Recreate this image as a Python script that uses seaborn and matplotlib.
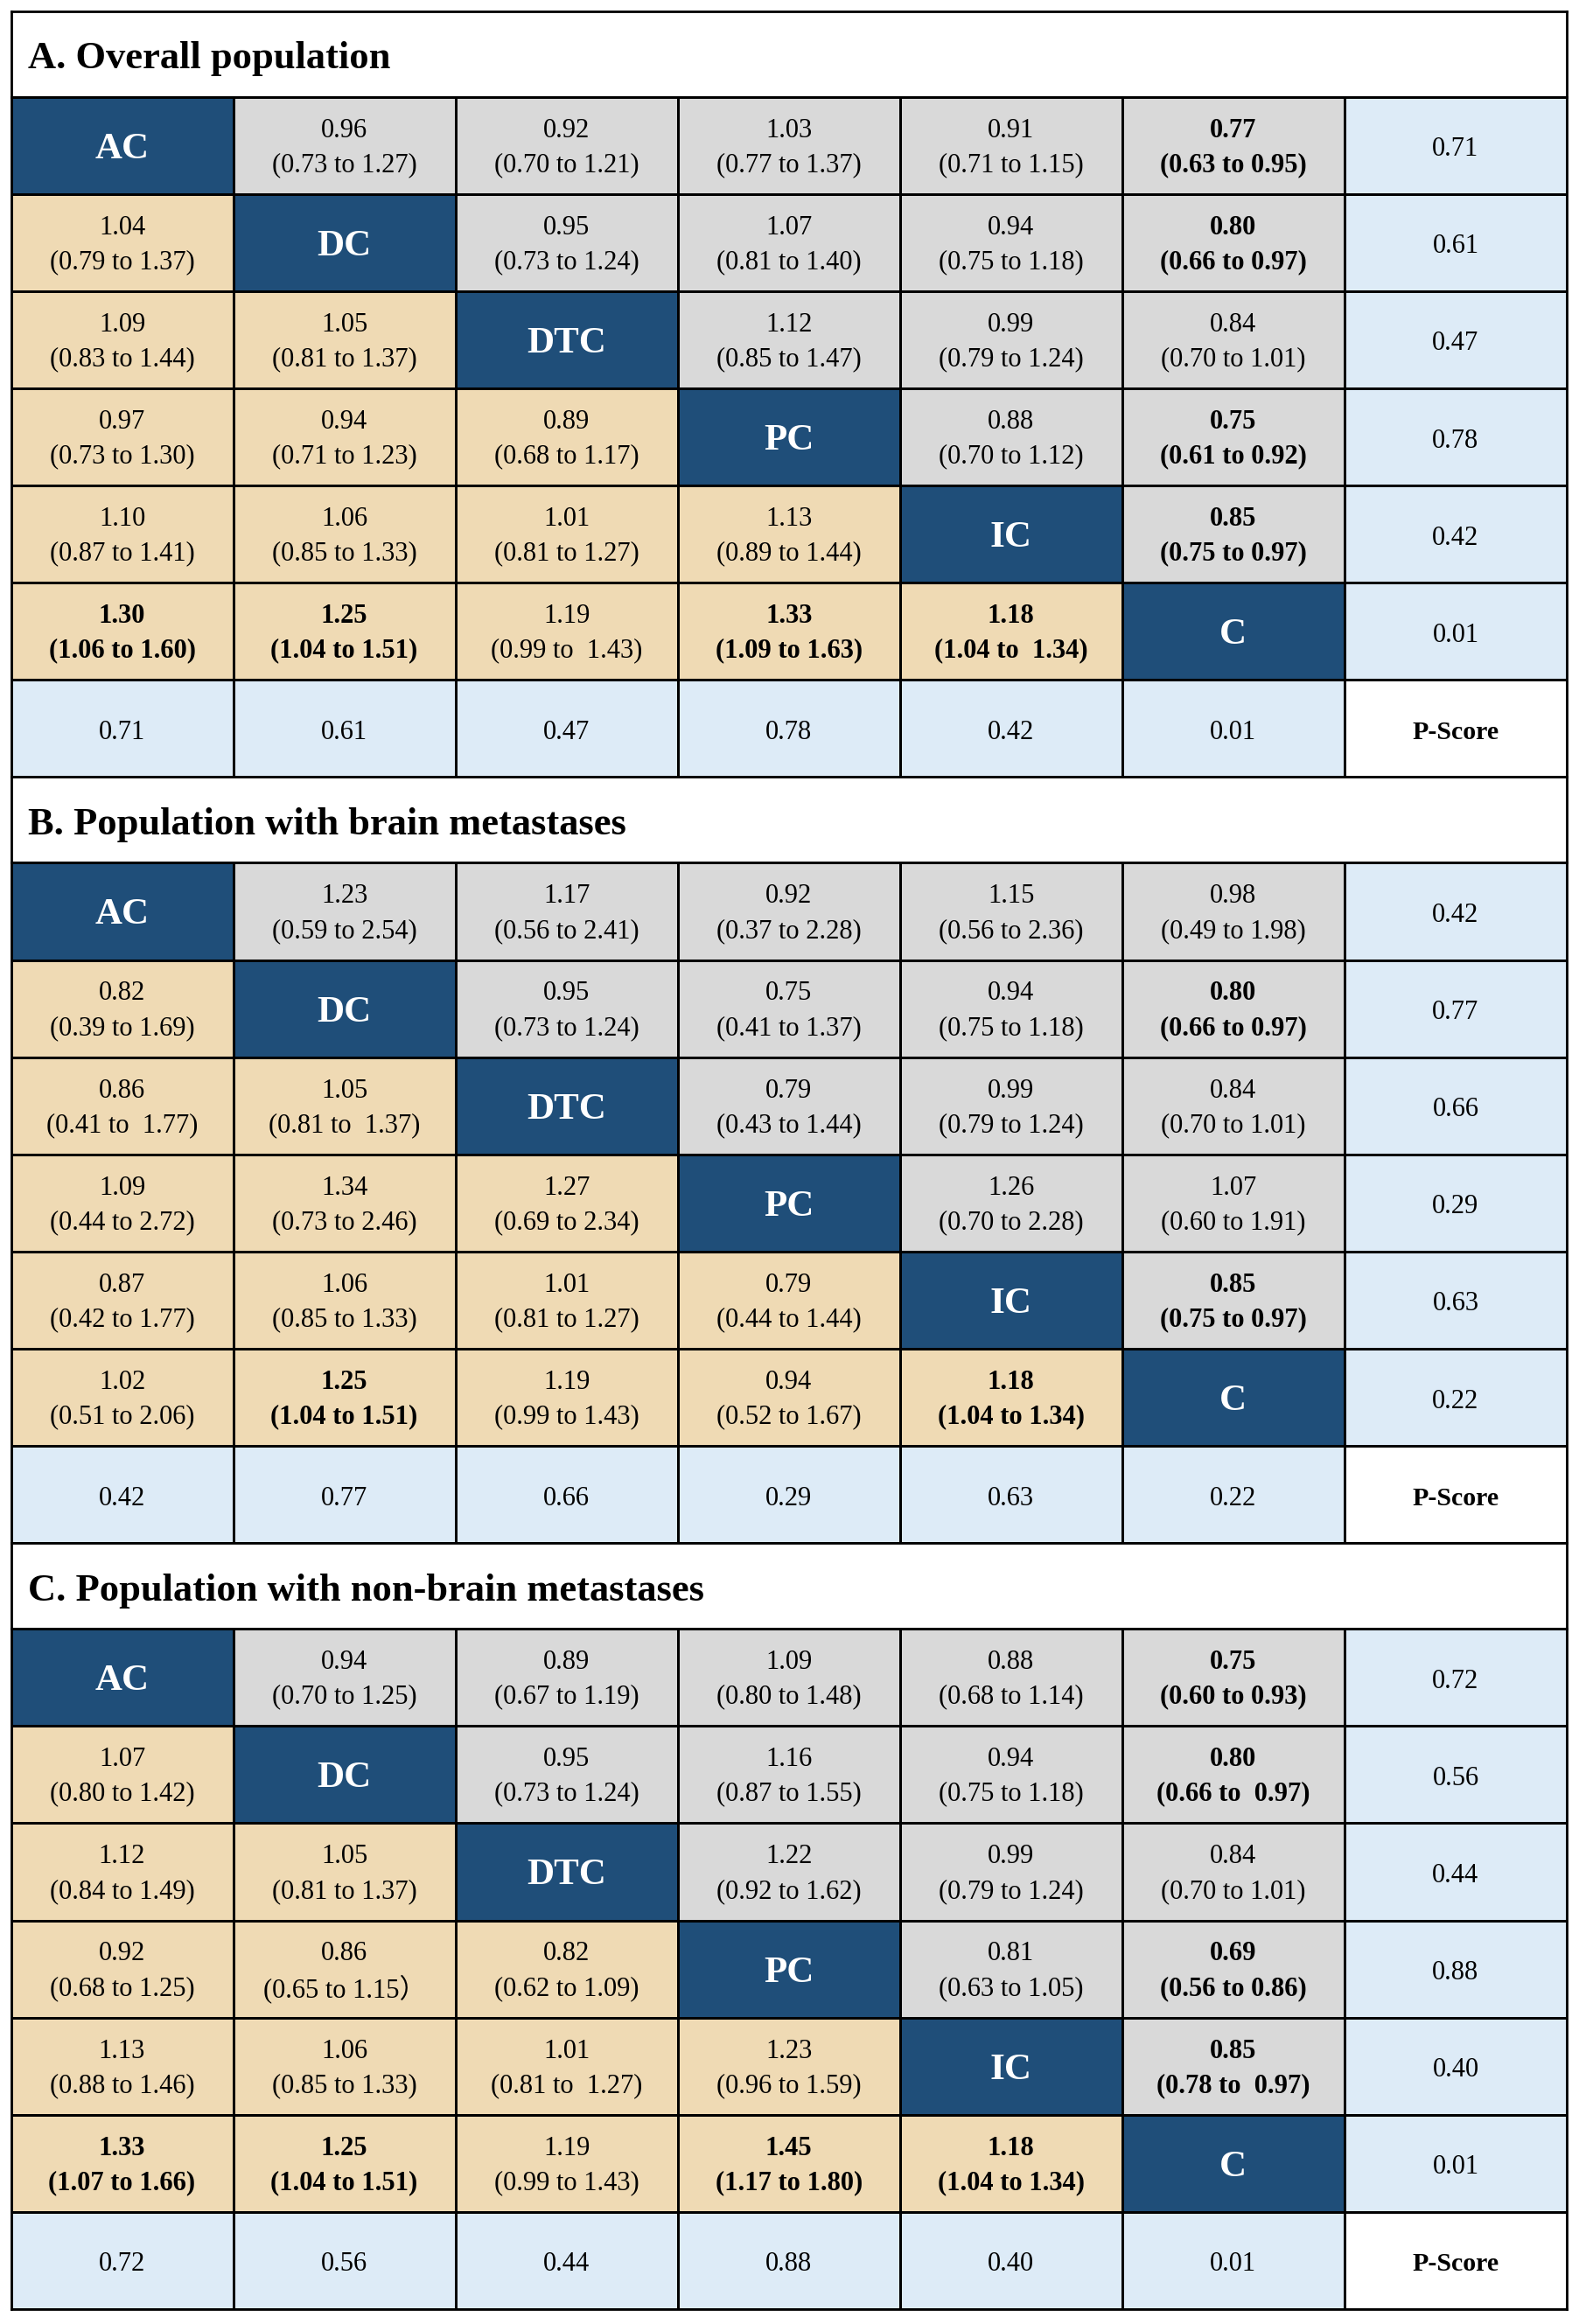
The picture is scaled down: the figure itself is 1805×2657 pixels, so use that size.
import re
import numpy as np
import pandas as pd
import matplotlib
matplotlib.use("Agg")
import matplotlib.pyplot as plt
from matplotlib.colors import ListedColormap
import seaborn as sns

# treatments on the diagonal
treatments = ["AC", "DC", "DTC", "PC", "IC", "C"]

# panel titles
title_a = "A. Overall population"
title_b = "B. Population with brain metastases"
title_c = "C. Population with non-brain metastases"

# league tables (row vs column), None on the diagonal
league_a = [
    [None, "0.96 (0.73 to 1.27)", "0.92 (0.70 to 1.21)", "1.03 (0.77 to 1.37)", "0.91 (0.71 to 1.15)", "0.77 (0.63 to 0.95)"],
    ["1.04 (0.79 to 1.37)", None, "0.95 (0.73 to 1.24)", "1.07 (0.81 to 1.40)", "0.94 (0.75 to 1.18)", "0.80 (0.66 to 0.97)"],
    ["1.09 (0.83 to 1.44)", "1.05 (0.81 to 1.37)", None, "1.12 (0.85 to 1.47)", "0.99 (0.79 to 1.24)", "0.84 (0.70 to 1.01)"],
    ["0.97 (0.73 to 1.30)", "0.94 (0.71 to 1.23)", "0.89 (0.68 to 1.17)", None, "0.88 (0.70 to 1.12)", "0.75 (0.61 to 0.92)"],
    ["1.10 (0.87 to 1.41)", "1.06 (0.85 to 1.33)", "1.01 (0.81 to 1.27)", "1.13 (0.89 to 1.44)", None, "0.85 (0.75 to 0.97)"],
    ["1.30 (1.06 to 1.60)", "1.25 (1.04 to 1.51)", "1.19 (0.99 to  1.43)", "1.33 (1.09 to 1.63)", "1.18 (1.04 to  1.34)", None],
]
league_b = [
    [None, "1.23 (0.59 to 2.54)", "1.17 (0.56 to 2.41)", "0.92 (0.37 to 2.28)", "1.15 (0.56 to 2.36)", "0.98 (0.49 to 1.98)"],
    ["0.82 (0.39 to 1.69)", None, "0.95 (0.73 to 1.24)", "0.75 (0.41 to 1.37)", "0.94 (0.75 to 1.18)", "0.80 (0.66 to 0.97)"],
    ["0.86 (0.41 to  1.77)", "1.05 (0.81 to  1.37)", None, "0.79 (0.43 to 1.44)", "0.99 (0.79 to 1.24)", "0.84 (0.70 to 1.01)"],
    ["1.09 (0.44 to 2.72)", "1.34 (0.73 to 2.46)", "1.27 (0.69 to 2.34)", None, "1.26 (0.70 to 2.28)", "1.07 (0.60 to 1.91)"],
    ["0.87 (0.42 to 1.77)", "1.06 (0.85 to 1.33)", "1.01 (0.81 to 1.27)", "0.79 (0.44 to 1.44)", None, "0.85 (0.75 to 0.97)"],
    ["1.02 (0.51 to 2.06)", "1.25 (1.04 to 1.51)", "1.19 (0.99 to 1.43)", "0.94 (0.52 to 1.67)", "1.18 (1.04 to 1.34)", None],
]
league_c = [
    [None, "0.94 (0.70 to 1.25)", "0.89 (0.67 to 1.19)", "1.09 (0.80 to 1.48)", "0.88 (0.68 to 1.14)", "0.75 (0.60 to 0.93)"],
    ["1.07 (0.80 to 1.42)", None, "0.95 (0.73 to 1.24)", "1.16 (0.87 to 1.55)", "0.94 (0.75 to 1.18)", "0.80 (0.66 to  0.97)"],
    ["1.12 (0.84 to 1.49)", "1.05 (0.81 to 1.37)", None, "1.22 (0.92 to 1.62)", "0.99 (0.79 to 1.24)", "0.84 (0.70 to 1.01)"],
    ["0.92 (0.68 to 1.25)", "0.86 (0.65 to 1.15）", "0.82 (0.62 to 1.09)", None, "0.81 (0.63 to 1.05)", "0.69 (0.56 to 0.86)"],
    ["1.13 (0.88 to 1.46)", "1.06 (0.85 to 1.33)", "1.01 (0.81 to  1.27)", "1.23 (0.96 to 1.59)", None, "0.85 (0.78 to  0.97)"],
    ["1.33 (1.07 to 1.66)", "1.25 (1.04 to 1.51)", "1.19 (0.99 to 1.43)", "1.45 (1.17 to 1.80)", "1.18 (1.04 to 1.34)", None],
]

# P-scores per treatment
pscore_a = [0.71, 0.61, 0.47, 0.78, 0.42, 0.01]
pscore_b = [0.42, 0.77, 0.66, 0.29, 0.63, 0.22]
pscore_c = [0.72, 0.56, 0.44, 0.88, 0.40, 0.01]

plt.rcParams["font.family"] = ["Liberation Serif", "Noto Sans CJK SC", "DejaVu Sans"]

# colours: diagonal, upper, lower, p-score, corner
cmap = ListedColormap(["#1F4E79", "#D9D9D9", "#EFDAB4", "#DDEBF7", "#FFFFFF"])

W, H = 1805, 2657
left_px, right_px = 12.5, 1791
top_px, bottom_px = 12.7, 2640
panel_h = (bottom_px - top_px) / 3
title_h = 98
x0 = left_px / W
wfrac = (right_px - left_px) / W

fig = plt.figure(figsize=(W / 100, H / 100), dpi=100)

panels = [(title_a, league_a, pscore_a), (title_b, league_b, pscore_b), (title_c, league_c, pscore_c)]
n = len(treatments) + 1

for k, (title, league, pscore) in enumerate(panels):
    top = top_px + k * panel_h

    # title row
    tax = fig.add_axes([x0, 1 - (top + title_h) / H, wfrac, title_h / H])
    tax.set_xticks([])
    tax.set_yticks([])
    for s in tax.spines.values():
        s.set_linewidth(2)
    tax.text(20 / (right_px - left_px), 0.33, title, transform=tax.transAxes,
             ha="left", va="baseline", fontsize=32, fontweight="bold")

    # grid of colour codes
    codes = np.zeros((n, n))
    for i in range(n):
        for j in range(n):
            if i == n - 1 and j == n - 1:
                codes[i, j] = 4
            elif i == n - 1 or j == n - 1:
                codes[i, j] = 3
            elif i == j:
                codes[i, j] = 0
            elif j > i:
                codes[i, j] = 1
            else:
                codes[i, j] = 2

    gax = fig.add_axes([x0, 1 - (top + panel_h) / H, wfrac, (panel_h - title_h) / H])
    sns.heatmap(pd.DataFrame(codes), cmap=cmap, vmin=-0.5, vmax=4.5, cbar=False,
                linewidths=2, linecolor="black", xticklabels=False, yticklabels=False, ax=gax)
    for s in gax.spines.values():
        s.set_visible(True)
        s.set_linewidth(2)

    for i in range(n):
        for j in range(n):
            cx = j + 0.5
            if i == n - 1 and j == n - 1:
                gax.text(cx, i + 0.54, "P-Score", ha="center", va="center", fontsize=21.5, fontweight="bold")
            elif i == n - 1:
                gax.text(cx, i + 0.54, f"{pscore[j]:.2f}", ha="center", va="center", fontsize=22)
            elif j == n - 1:
                gax.text(cx, i + 0.54, f"{pscore[i]:.2f}", ha="center", va="center", fontsize=22)
            elif i == j:
                gax.text(cx, i + 0.54, treatments[i], ha="center", va="center", fontsize=31,
                         fontweight="bold", color="white")
            else:
                s = league[i][j]
                est, ci = s.split(" ", 1)
                lo, hi = [float(v) for v in re.findall(r"\d+\.\d+", ci)]
                w = "bold" if (hi < 1 or lo > 1) else "normal"
                gax.text(cx, i + 0.345, est, ha="center", va="center", fontsize=22, fontweight=w)
                gax.text(cx, i + 0.70, ci, ha="center", va="center", fontsize=22, fontweight=w)

fig.savefig("out.png", dpi=100)
